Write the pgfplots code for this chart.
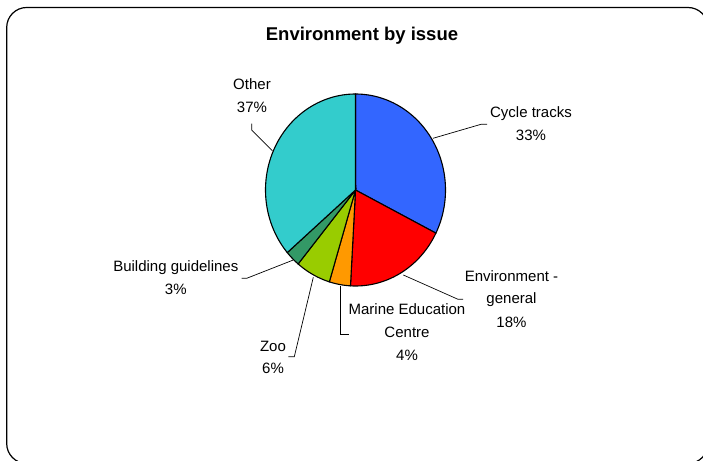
\documentclass[border=0pt]{standalone}
\usepackage{fontspec}
\setmainfont{Liberation Sans}
\usepackage{pgfplots}
\pgfplotsset{compat=1.18}
\definecolor{cBlue}{HTML}{3366FF}
\definecolor{cRed}{HTML}{FF0000}
\definecolor{cOrange}{HTML}{FF9900}
\definecolor{cLime}{HTML}{99CC00}
\definecolor{cDkGreen}{HTML}{339966}
\definecolor{cCyan}{HTML}{33CCCC}
\tikzset{lbl/.style={anchor=base, inner sep=0pt, font=\fontsize{15bp}{22bp}\selectfont}}
\begin{document}
\begin{tikzpicture}
\begin{axis}[
  width=703bp, height=461bp, scale only axis,
  xmin=0, xmax=703, ymin=0, ymax=461, y dir=reverse,
  hide axis, clip=false,
]
% frame
\draw[line width=1.2bp, rounded corners=20bp] (axis cs:6.7,7.5) rectangle (axis cs:708,463.5);
% pie slices: angle boundaries (degrees)
% Cycle tracks 33%, Environment - general 18%, Marine Education Centre 4%, Zoo 6%, Building guidelines 3%, Other 37%
\addplot[fill=cBlue, draw=black, line width=1.1bp, no marks, domain=90:-26.7, samples=80, variable=\t]
  ({355.5+90*cos(\t)},{190-96*sin(\t)}) -- (axis cs:355.5,190) -- cycle;
\addplot[fill=cRed, draw=black, line width=1.1bp, no marks, domain=-26.7:-93.2, samples=50, variable=\t]
  ({355.5+90*cos(\t)},{190-96*sin(\t)}) -- (axis cs:355.5,190) -- cycle;
\addplot[fill=cOrange, draw=black, line width=1.1bp, no marks, domain=-93.2:-106.9, samples=15, variable=\t]
  ({355.5+90*cos(\t)},{190-96*sin(\t)}) -- (axis cs:355.5,190) -- cycle;
\addplot[fill=cLime, draw=black, line width=1.1bp, no marks, domain=-106.9:-129.6, samples=20, variable=\t]
  ({355.5+90*cos(\t)},{190-96*sin(\t)}) -- (axis cs:355.5,190) -- cycle;
\addplot[fill=cDkGreen, draw=black, line width=1.1bp, no marks, domain=-129.6:-139.3, samples=10, variable=\t]
  ({355.5+90*cos(\t)},{190-96*sin(\t)}) -- (axis cs:355.5,190) -- cycle;
\addplot[fill=cCyan, draw=black, line width=1.1bp, no marks, domain=-139.3:-270, samples=90, variable=\t]
  ({355.5+90*cos(\t)},{190-96*sin(\t)}) -- (axis cs:355.5,190) -- cycle;
% leader lines
\draw[line width=0.7bp] (axis cs:272.3,150.7) -- (axis cs:251.7,130) -- (axis cs:251.7,123.5);
\draw[line width=0.7bp] (axis cs:433,138.3) -- (axis cs:481,124.3) -- (axis cs:487,124.3);
\draw[line width=0.7bp] (axis cs:403.3,275) -- (axis cs:458,299.3) -- (axis cs:463,299.3);
\draw[line width=0.7bp] (axis cs:340,286) -- (axis cs:340,334) -- (axis cs:349,334);
\draw[line width=0.7bp] (axis cs:313.3,277.3) -- (axis cs:294.3,356.7) -- (axis cs:288.3,356.7);
\draw[line width=0.7bp] (axis cs:293.3,260) -- (axis cs:246.7,278.3) -- (axis cs:241.7,278.3);
% title
\node[anchor=base, inner sep=0pt, font=\fontsize{18.5bp}{22bp}\selectfont\bfseries] at (axis cs:362,41) {Environment by issue};
% labels
\node[lbl] at (axis cs:252,89.5) {Other};
\node[lbl] at (axis cs:252,112.3) {37\%};
\node[lbl] at (axis cs:531,117.3) {Cycle tracks};
\node[lbl] at (axis cs:531,140.7) {33\%};
\node[lbl] at (axis cs:511.5,281) {Environment -};
\node[lbl] at (axis cs:511.5,303.5) {general};
\node[lbl] at (axis cs:511.5,327) {18\%};
\node[lbl] at (axis cs:407,314.5) {Marine Education};
\node[lbl] at (axis cs:407,337) {Centre};
\node[lbl] at (axis cs:407,360) {4\%};
\node[lbl] at (axis cs:273,351) {Zoo};
\node[lbl] at (axis cs:273,373.5) {6\%};
\node[lbl] at (axis cs:175.8,271.7) {Building guidelines};
\node[lbl] at (axis cs:175.8,294) {3\%};
\end{axis}
\pgfresetboundingbox
\path (0,0) rectangle (703bp,461bp);
\end{tikzpicture}
\end{document}
